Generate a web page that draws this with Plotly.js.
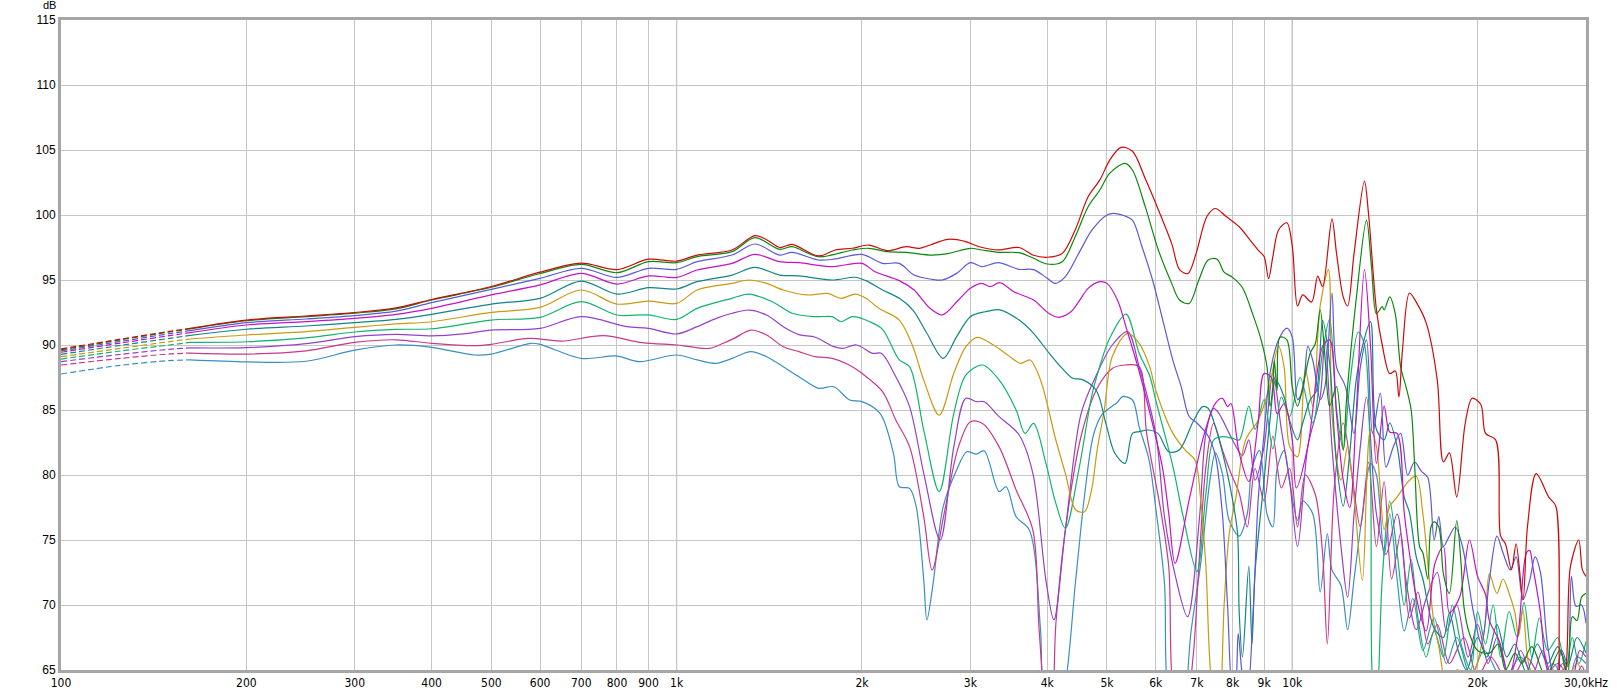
<!DOCTYPE html>
<html><head><meta charset="utf-8">
<script src="https://cdn.plot.ly/plotly-3.0.1.min.js"></script>
<style>html,body{margin:0;padding:0;background:#fff;overflow:hidden}#chart{width:1617px;height:696px}</style>
</head><body><div id="chart"></div>
<script>
// [frequency Hz, level dB]
const RED = [[100,89.7],[125,90.45],[150,91.05],[162,91.28],[200,91.92],[250,92.23],[300,92.5],[350,92.85],[400,93.5],[500,94.5],[600,95.6],[700,96.3],[800,95.8],[900,96.6],[1000,96.45],[1080,96.92],[1230,97.31],[1340,98.41],[1400,98.1],[1470,97.5],[1540,97.74],[1700,96.85],[1810,97.31],[1930,97.44],[2050,97.69],[2200,97.26],[2360,97.56],[2480,97.44],[2580,97.69],[2760,98.13],[2950,97.95],[3100,97.56],[3330,97.31],[3600,97.5],[3800,96.9],[4000,96.75],[4230,97.05],[4440,98.85],[4660,101.4],[4870,102.7],[5050,104.2],[5270,105.2],[5500,104.9],[5770,102.8],[6060,100.4],[6370,97.8],[6560,95.8],[6770,95.5],[6980,97.05],[7270,99.9],[7500,100.5],[7800,99.9],[8200,99.1],[8500,98.2],[8800,97.3],[9000,96.8],[9150,95.1],[9300,96.8],[9500,98.85],[9800,99.4],[10000,97.6],[10200,93.0],[10400,93.85],[10750,93.3],[11000,95.3],[11200,94.5],[11600,99.7],[11800,97.05],[12100,93.7],[12300,93.0],[12600,97.05],[13100,102.6],[13300,100.1],[13700,92.7],[14000,90.0],[14400,87.8],[14700,88.0],[14900,86.0],[15100,89.6],[15500,94.0],[15900,93.3],[16500,91.7],[17200,87.3],[17600,81.0],[18000,81.7],[18500,78.3],[19100,84.0],[19600,85.9],[20250,85.4],[20600,83.2],[21400,82.7],[21800,75.3],[22200,74.7],[22700,72.7],[23100,74.7],[23700,70.4],[24100,76.0],[24900,80.1],[26100,78.3],[26800,77.6],[27300,64.0],[27800,65.0],[28300,72.95],[29200,75.0],[29600,72.7],[30000,72.2]];
const GREEN = [[100,89.62],[125,90.4],[150,91.0],[162,91.23],[200,91.87],[250,92.18],[300,92.45],[350,92.78],[400,93.46],[500,94.44],[600,95.5],[700,96.2],[800,95.56],[900,96.41],[1000,96.33],[1080,96.8],[1230,97.18],[1340,98.26],[1470,97.36],[1540,97.56],[1700,96.79],[1930,97.31],[2050,97.44],[2200,97.18],[2360,97.13],[2600,96.92],[2770,97.05],[3000,97.44],[3130,97.31],[3330,97.13],[3600,97.1],[3800,96.67],[4000,96.23],[4230,96.41],[4440,98.33],[4660,100.64],[4870,101.92],[5050,103.2],[5350,103.97],[5500,103.46],[5770,100.64],[6060,97.31],[6370,94.74],[6560,93.46],[6800,93.2],[7050,95.0],[7300,96.54],[7550,96.6],[7750,95.6],[8000,95.2],[8300,94.4],[8650,92.2],[8900,90.4],[9100,88.3],[9200,85.3],[9300,86.8],[9350,88.8],[9450,86.5],[9550,90.6],[9800,90.4],[10000,86.8],[10200,85.3],[10400,86.8],[10700,89.4],[10900,90.1],[11100,92.7],[11300,89.1],[11500,85.3],[11800,86.8],[12100,81.9],[12250,85.8],[12700,93.5],[13200,99.6],[13450,96.0],[13700,92.4],[14000,92.95],[14100,92.7],[14400,93.7],[14700,92.4],[15000,88.3],[15300,86.8],[15600,85.0],[15800,80.9],[16100,74.5],[16300,74.0],[16600,72.0],[16800,76.0],[17000,76.4],[17300,76.0],[17600,72.4],[18000,70.9],[18500,76.5],[18800,73.2],[19000,69.9],[19400,67.8],[20000,66.5],[20900,66.3],[21600,67.0],[22200,65.0],[23000,66.3],[23600,65.5],[24500,66.8],[25800,64.5],[27200,66.5],[28000,64.5],[28500,69.1],[29000,68.8],[29500,70.6],[30000,70.9]];
const BLUE = [[100,89.54],[125,90.28],[150,90.87],[162,91.1],[200,91.72],[250,92.0],[300,92.26],[350,92.6],[400,93.26],[500,94.28],[600,95.13],[700,95.9],[800,95.2],[900,95.9],[1000,95.82],[1080,96.41],[1230,96.92],[1340,97.77],[1470,96.92],[1540,97.13],[1700,96.54],[1800,96.6],[2000,96.97],[2160,96.28],[2300,96.28],[2430,95.38],[2600,95.05],[2700,95.0],[2850,95.51],[3000,96.33],[3130,96.03],[3330,96.33],[3600,95.82],[3800,95.8],[4000,95.13],[4120,94.74],[4280,95.26],[4500,97.05],[4730,98.85],[5000,100.0],[5120,100.13],[5350,99.92],[5500,99.6],[5700,97.56],[5930,95.0],[6160,91.92],[6400,88.8],[6600,86.8],[6800,84.5],[7000,84.0],[7300,83.0],[7500,81.5],[7700,77.0],[7850,70.0],[8000,63.0],[8100,64.0],[8170,67.8],[8300,64.5],[8450,63.0],[8650,70.0],[8800,78.0],[9000,83.2],[9200,87.8],[9500,90.4],[9800,91.3],[10000,90.6],[10200,85.8],[10400,86.5],[10600,89.9],[10800,88.8],[11100,85.8],[11300,86.8],[11600,94.0],[11800,88.3],[12200,86.8],[12600,83.2],[12900,88.3],[13200,90.4],[13500,83.2],[13900,86.3],[14200,80.6],[14600,82.2],[15000,83.2],[15400,80.0],[15800,81.0],[16200,80.3],[16600,79.8],[17000,75.0],[17300,76.8],[17600,74.5],[18000,75.3],[18400,76.0],[18900,74.5],[19300,72.0],[19700,69.4],[20300,67.0],[20900,71.9],[21500,75.3],[22000,74.0],[22600,72.7],[23100,73.7],[23700,70.4],[24300,71.9],[24800,73.7],[25300,72.5],[26000,66.8],[26700,64.2],[27400,66.5],[28000,65.5],[28400,72.2],[28900,69.9],[29500,70.0],[30000,68.6]];
const MAGENTA = [[100,89.44],[125,90.15],[150,90.72],[162,90.95],[200,91.54],[250,91.8],[300,92.05],[350,92.35],[400,92.82],[500,93.85],[600,94.62],[700,95.51],[800,94.69],[900,95.31],[1000,95.2],[1080,95.77],[1230,96.28],[1340,96.97],[1470,96.41],[1580,96.33],[1790,96.03],[2000,96.28],[2100,95.64],[2300,94.95],[2430,94.23],[2580,92.82],[2700,92.31],[2870,93.46],[3000,94.36],[3130,94.74],[3230,94.49],[3350,94.8],[3530,94.1],[3800,93.46],[4020,92.44],[4170,92.13],[4370,92.56],[4500,93.33],[4660,94.36],[4870,94.87],[5000,94.74],[5200,93.46],[5400,91.0],[5600,88.5],[5800,85.77],[6150,80.64],[6300,77.05],[6450,73.2],[6800,78.08],[7200,83.2],[7500,85.51],[7700,85.9],[7850,85.26],[7950,85.5],[8200,81.7],[8500,79.5],[8800,84.0],[9000,87.8],[9250,87.5],[9450,84.7],[9700,85.5],[10000,82.7],[10150,79.0],[10600,82.2],[11200,89.9],[11500,90.4],[11800,84.7],[12100,79.6],[12400,77.5],[12700,84.7],[13100,95.8],[13400,89.9],[13700,80.9],[14100,85.3],[14400,83.3],[14800,83.2],[15200,77.1],[15500,74.0],[15900,70.6],[16500,68.0],[17050,73.2],[17600,74.5],[18000,69.4],[18700,70.6],[19400,75.0],[20000,72.2],[20600,70.8],[20900,68.8],[21700,67.2],[22500,64.5],[23300,68.0],[24000,74.0],[24300,74.2],[24600,72.9],[25300,69.4],[25800,65.5],[26500,64.0],[27500,65.0],[28500,64.5],[29300,66.5],[30000,66.0]];
const TEAL = [[100,89.28],[125,89.97],[150,90.51],[162,90.74],[200,91.21],[250,91.46],[300,91.72],[350,91.97],[400,92.36],[500,93.15],[600,93.59],[700,94.92],[800,93.92],[900,94.41],[1000,94.31],[1080,94.87],[1230,95.38],[1340,95.97],[1470,95.38],[1580,95.31],[1790,95.0],[1950,95.21],[2030,94.95],[2160,94.23],[2300,93.59],[2420,92.69],[2550,90.9],[2710,88.97],[2850,90.64],[3000,92.18],[3170,92.56],[3350,92.7],[3600,91.92],[3800,90.9],[4030,89.36],[4230,88.2],[4400,87.44],[4550,87.36],[4800,86.54],[4980,83.97],[5150,81.67],[5350,80.9],[5500,83.2],[5640,83.33],[5850,83.46],[6050,83.2],[6300,81.79],[6550,81.92],[6900,84.1],[7150,85.26],[7300,85.13],[7500,83.72],[7800,80.64],[8000,78.08],[8150,75.5],[8200,69.4],[8300,66.0],[8500,73.0],[8600,67.0],[8700,72.5],[9000,79.6],[9200,84.2],[9400,87.3],[9700,86.0],[9900,84.2],[10200,82.7],[10400,84.0],[10700,85.8],[10950,86.5],[11200,91.9],[11500,88.6],[11800,80.9],[12100,77.6],[12400,81.7],[12700,87.3],[13000,89.9],[13400,91.8],[13700,83.5],[14100,82.7],[14400,84.0],[14800,82.2],[15200,78.3],[15500,77.1],[15900,73.7],[16300,72.0],[17000,68.2],[17600,67.5],[18000,69.4],[18600,66.5],[19200,65.0],[20000,67.5],[20700,66.0],[21500,68.5],[22300,66.0],[23000,67.0],[24000,64.8],[25000,67.0],[26000,65.5],[27000,66.8],[28000,65.3],[29000,67.5],[30000,66.3]];
const GOLD = [[100,89.1],[125,89.74],[150,90.26],[162,90.46],[200,90.77],[250,91.03],[300,91.36],[350,91.62],[400,91.79],[500,92.51],[600,92.9],[700,94.23],[800,93.15],[900,93.38],[1000,93.2],[1080,94.23],[1230,94.74],[1310,95.0],[1400,94.74],[1490,94.23],[1630,93.85],[1760,93.97],[1850,93.59],[1950,93.92],[2030,93.6],[2130,92.82],[2300,91.92],[2420,89.87],[2520,87.3],[2670,84.6],[2820,87.82],[2950,89.87],[3080,90.59],[3270,90.0],[3450,89.23],[3620,88.59],[3750,88.85],[3900,87.31],[4130,82.69],[4280,80.13],[4450,77.31],[4600,77.18],[4720,78.85],[4820,81.92],[4950,85.0],[5100,89.1],[5400,90.9],[5640,90.13],[5870,88.3],[6000,86.54],[6400,83.2],[6700,81.92],[6950,81.15],[7100,78.08],[7240,72.95],[7400,64.0],[7600,62.0],[7750,70.0],[7900,75.5],[8100,78.3],[8400,82.7],[8800,84.2],[9150,86.5],[9500,89.9],[9700,88.3],[9900,82.2],[10200,81.4],[10500,88.1],[10800,85.3],[11100,93.0],[11450,95.8],[11600,84.7],[12000,79.6],[12300,82.2],[12600,78.3],[13000,71.9],[13400,83.5],[13700,82.2],[14100,75.8],[14400,77.6],[14800,78.3],[15200,79.1],[15500,79.6],[15900,79.9],[16300,77.0],[16700,71.9],[17000,68.5],[17300,66.8],[17800,64.0],[18500,65.0],[19500,64.5],[20500,68.0],[20900,72.4],[21500,70.9],[22000,72.0],[22500,70.9],[23000,69.4],[23300,67.6],[23700,69.6],[24200,65.5],[25000,64.0],[26500,65.0],[28000,64.5],[29000,65.5],[30000,64.0]];
const BRIGHTGREEN = [[100,88.92],[125,89.54],[150,90.0],[162,90.2],[200,90.25],[250,90.55],[300,91.0],[350,91.2],[400,91.25],[500,91.92],[600,92.13],[700,93.33],[800,92.31],[900,92.31],[1000,91.97],[1080,92.82],[1230,93.59],[1310,93.92],[1430,93.33],[1540,92.44],[1680,92.18],[1790,92.18],[1850,91.79],[1930,92.18],[2060,91.79],[2160,91.2],[2300,88.85],[2390,88.33],[2520,83.46],[2670,78.72],[2820,84.74],[2950,87.69],[3140,88.46],[3340,87.31],[3560,85.0],[3680,83.2],[3800,83.97],[3980,80.9],[4130,77.82],[4280,75.9],[4500,80.38],[4720,86.03],[4820,87.69],[5050,90.5],[5370,92.38],[5640,89.36],[5870,87.6],[6000,85.77],[6400,80.64],[6650,76.79],[7000,72.56],[7240,78.59],[7450,82.69],[7700,82.95],[8000,82.82],[8200,82.7],[8500,85.3],[8700,83.5],[9000,85.8],[9300,82.0],[9600,86.0],[9900,84.5],[10300,87.5],[10800,84.0],[11200,89.5],[11500,92.0],[11800,85.0],[12100,82.0],[12400,87.0],[12800,91.0],[13100,90.0],[13400,80.0],[13500,64.0],[13700,62.0],[14000,72.0],[14400,78.0],[14800,74.0],[15200,70.0],[15600,73.5],[16000,69.0],[16500,66.0],[17000,68.0],[17600,66.0],[18200,70.0],[18800,67.0],[19500,65.0],[20000,69.5],[20600,67.0],[21200,70.0],[21800,66.0],[22500,69.5],[23200,67.5],[23800,70.2],[24500,66.0],[25200,69.0],[26000,66.5],[27000,67.5],[27800,65.0],[28500,67.5],[29200,65.5],[30000,67.2]];
const PURPLE = [[100,88.72],[125,89.28],[150,89.67],[162,89.78],[200,89.8],[250,90.1],[300,90.64],[350,90.82],[400,90.7],[450,90.85],[500,91.15],[600,91.28],[700,92.18],[830,91.41],[900,91.28],[1000,90.85],[1080,91.41],[1160,92.05],[1230,92.44],[1310,92.69],[1400,92.31],[1490,91.41],[1580,90.8],[1680,90.6],[1800,89.87],[1860,89.74],[1960,90.0],[2080,89.36],[2150,89.36],[2270,87.56],[2390,85.26],[2520,80.13],[2680,75.0],[2820,82.18],[2950,85.9],[3070,85.64],[3160,85.64],[3340,84.49],[3600,83.08],[3790,80.13],[3980,71.9],[4100,68.85],[4280,75.77],[4540,84.74],[4820,87.82],[5100,90.0],[5400,91.03],[5640,88.33],[6000,83.2],[6200,76.8],[6460,72.2],[6760,69.1],[7070,76.8],[7240,83.2],[7450,85.13],[7600,84.74],[7900,83.2],[8100,82.2],[8300,81.5],[8500,82.7],[8700,79.6],[9000,82.2],[9300,87.8],[9600,83.5],[9900,79.6],[10200,74.5],[10600,82.2],[11100,86.0],[11300,90.4],[11600,82.2],[12000,74.5],[12300,70.6],[12600,77.0],[12900,82.2],[13200,86.0],[13700,77.0],[14200,73.9],[14800,77.0],[15300,71.9],[15900,68.1],[16500,70.5],[17200,72.5],[17800,68.0],[18500,70.0],[19300,66.0],[20000,68.5],[20800,65.5],[21500,67.5],[22500,64.5],[23500,66.5],[24500,64.5],[25500,66.5],[26500,64.2],[27500,65.5],[28500,64.0],[29500,65.3],[30000,64.5]];
const PINK = [[100,88.46],[125,88.97],[150,89.31],[162,89.38],[200,89.3],[250,89.55],[300,90.2],[350,90.4],[400,90.13],[470,89.95],[500,90.05],[575,90.51],[650,90.3],[760,90.72],[880,90.18],[1000,90.0],[1050,89.87],[1130,89.74],[1190,90.13],[1240,90.51],[1320,91.15],[1400,90.77],[1490,89.87],[1580,89.49],[1680,89.1],[1790,88.97],[1900,88.5],[2000,87.82],[2160,86.41],[2270,84.23],[2390,82.18],[2520,76.79],[2600,72.69],[2720,77.05],[2870,82.18],[3000,84.1],[3140,83.97],[3340,82.18],[3560,78.85],[3790,75.77],[3880,68.08],[3970,63.0],[4060,62.0],[4130,68.5],[4280,75.77],[4540,83.0],[4820,86.67],[5100,88.2],[5350,88.46],[5640,88.33],[5800,83.2],[6100,77.56],[6300,72.95],[6450,63.0],[6700,62.0],[6900,66.0],[7050,72.95],[7240,80.64],[7450,83.97],[7700,81.92],[7950,80.13],[8200,78.6],[8450,76.0],[8700,80.5],[9000,78.0],[9300,83.0],[9600,79.0],[9900,80.5],[10200,76.0],[10500,80.0],[10900,78.5],[11200,74.0],[11400,67.0],[11700,79.0],[12100,84.0],[12500,80.0],[12900,76.0],[13300,81.0],[13700,74.5],[14100,79.5],[14500,72.0],[15000,75.5],[15500,69.0],[16000,71.0],[16600,67.0],[17200,68.5],[18000,65.5],[19000,67.5],[20000,64.5],[21000,66.0],[22500,64.0],[24000,66.0],[25500,64.3],[27000,65.5],[28500,64.2],[30000,65.0]];
const STEELBLUE = [[100,87.77],[125,88.44],[150,88.8],[162,88.85],[200,88.7],[250,88.75],[300,89.6],[350,90.0],[400,89.82],[470,89.23],[500,89.3],[580,90.13],[600,90.05],[700,88.97],[800,89.15],[870,88.72],[1000,89.23],[1080,88.85],[1160,88.59],[1230,88.97],[1320,89.49],[1400,89.1],[1490,88.33],[1580,87.56],[1700,86.67],[1800,86.79],[1910,85.77],[2000,85.64],[2140,84.74],[2250,81.67],[2300,79.1],[2390,78.97],[2450,77.56],[2520,71.92],[2550,68.85],[2610,71.67],[2710,77.56],[2850,80.38],[2960,81.79],[3070,81.6],[3160,81.87],[3340,78.72],[3430,79.1],[3560,76.79],[3740,75.77],[3900,68.1],[3960,62.0],[4100,61.0],[4250,63.0],[4450,72.0],[4600,78.5],[4750,83.0],[4900,84.6],[5000,85.0],[5200,85.6],[5300,86.03],[5500,85.77],[5640,83.72],[5850,81.2],[6000,77.5],[6200,71.67],[6300,63.0],[6600,61.0],[6850,68.0],[7100,73.2],[7350,79.6],[7500,81.7],[7700,80.1],[7900,76.5],[8200,75.3],[8450,77.0],[8600,80.5],[8850,81.9],[9100,77.0],[9300,76.0],[9450,80.5],[9700,81.9],[9900,79.5],[10200,76.5],[10400,78.0],[10800,77.0],[11100,71.0],[11400,75.5],[11600,72.7],[12000,71.5],[12300,68.1],[12600,72.0],[13000,77.0],[13400,80.9],[13700,80.0],[14100,73.8],[14400,77.0],[14800,72.0],[15200,68.0],[15700,70.5],[16300,66.5],[17000,69.0],[17800,65.5],[18500,67.5],[19500,64.5],[20500,66.5],[22000,64.2],[23500,66.0],[25000,64.0],[26500,65.5],[28000,64.0],[29000,66.0],[30000,65.5]];

const SERIES_DATA = [STEELBLUE, PINK, PURPLE, BRIGHTGREEN, GOLD, TEAL, MAGENTA, BLUE, GREEN, RED];
const SERIES_COLORS = ['#3a8fc2', '#c8388c', '#9440c8', '#12b46c', '#c89a12', '#128484', '#c412c4', '#5a5ad8', '#0c880c', '#cc0a0a'];
const XTICK_VALS = [100,200,300,400,500,600,700,800,900,1000,2000,3000,4000,5000,6000,7000,8000,9000,10000,20000,30000];
const XTICK_TEXT = ['100','200','300','400','500','600','700','800','900','1k','2k','3k','4k','5k','6k','7k','8k','9k','10k','20k','30,0kHz'];
const YTICK_VALS = [65,70,75,80,85,90,95,100,105,110,115];
const MAJOR_DECADES = [1000, 10000];
const DASH_END = 162;

const traces = [];
SERIES_DATA.forEach((data, i) => {
  const color = SERIES_COLORS[i];
  const dashed = data.filter(p => p[0] <= DASH_END);
  const solid = data.filter(p => p[0] >= DASH_END);
  traces.push({x: dashed.map(p => p[0]), y: dashed.map(p => p[1]), type: 'scatter', mode: 'lines',
    line: {color: color, width: 1.2, dash: '6px,3px', shape: 'spline', smoothing: 0.9}, hoverinfo: 'skip', showlegend: false});
  traces.push({x: solid.map(p => p[0]), y: solid.map(p => p[1]), type: 'scatter', mode: 'lines',
    line: {color: color, width: 1.2, shape: 'spline', smoothing: 0.9}, hoverinfo: 'skip', showlegend: false});
});

const layout = {
  width: 1617, height: 696,
  margin: {l: 61, r: 31, t: 20, b: 26, pad: 0},
  paper_bgcolor: '#ffffff', plot_bgcolor: '#ffffff',
  showlegend: false,
  font: {family: 'Liberation Sans, Arial, sans-serif', size: 12, color: '#000'},
  xaxis: {
    type: 'log', range: [2, Math.log10(30000)],
    tickmode: 'array', tickvals: XTICK_VALS, ticktext: XTICK_TEXT,
    showgrid: true, gridcolor: '#c6c6c6', gridwidth: 1,
    showline: true, mirror: true, linecolor: '#a6a6a6', linewidth: 3,
    ticks: '', zeroline: false, automargin: false, fixedrange: true,
    tickfont: {family: 'Liberation Sans Narrow, DejaVu Sans Condensed, Arial Narrow, Liberation Sans, sans-serif', size: 12, color: '#000'}
  },
  yaxis: {
    range: [65, 115], tickmode: 'array', tickvals: YTICK_VALS,
    showgrid: true, gridcolor: '#c6c6c6', gridwidth: 1,
    showline: true, mirror: true, linecolor: '#a6a6a6', linewidth: 3,
    ticks: '', zeroline: false, automargin: false, fixedrange: true,
    tickfont: {family: 'Liberation Sans, Arial, sans-serif', size: 12, color: '#000'}
  },
  shapes: MAJOR_DECADES.map(v => ({type: 'line', xref: 'x', yref: 'paper', x0: v, x1: v, y0: 0, y1: 1,
    line: {color: '#8a8a8a', width: 1}, layer: 'below'})),
  annotations: [{text: 'dB', xref: 'paper', yref: 'paper', x: -0.0075, y: 1.0225, xanchor: 'center', yanchor: 'middle',
    showarrow: false, font: {family: 'Liberation Sans, Arial, sans-serif', size: 11, color: '#000'}}]
};

Plotly.newPlot('chart', traces, layout, {staticPlot: true, displayModeBar: false});
</script>
</body></html>
